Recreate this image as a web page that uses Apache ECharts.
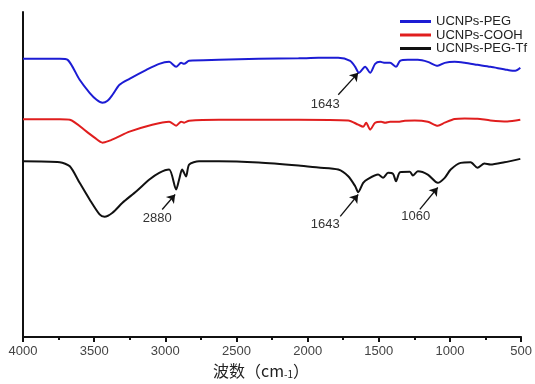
<!DOCTYPE html>
<html>
<head>
<meta charset="utf-8">
<script src="https://cdn.jsdelivr.net/npm/echarts@6/dist/echarts.min.js"></script>
<style>
  html, body { margin: 0; padding: 0; background: #fff; }
  #chart { width: 535px; height: 384px; }
</style>
</head>
<body>
<div id="chart"></div>
<script>
// 波数 (cm-1) 和 透过率 (任意单位)
const pegWave = [4000, 3741, 3686, 3602, 3532, 3483, 3441, 3406, 3371, 3322, 3252, 3133, 3043, 2973, 2924, 2889, 2868, 2833, 2623, 2344, 2064, 1925, 1785, 1701, 1666, 1640, 1596, 1561, 1526, 1491, 1456, 1421, 1379, 1351, 1296, 1226, 1156, 1086, 1037, 967, 897, 807, 716, 597, 541, 506]
const pegT = [279, 279, 278, 258, 245, 238, 235, 237, 243, 253, 259, 268, 274, 276, 271, 275, 274, 277, 278, 279, 279.5, 280, 280, 277, 271, 265, 271, 265, 274, 276, 275, 275, 271, 277, 278, 278, 276, 272, 275, 276, 275, 273, 271, 268, 267, 270]

const coohWave = [4000, 3741, 3671, 3553, 3497, 3441, 3392, 3343, 3252, 3092, 2973, 2924, 2889, 2868, 2833, 2623, 2064, 1715, 1645, 1610, 1589, 1561, 1526, 1484, 1456, 1421, 1366, 1317, 1247, 1156, 1086, 1037, 967, 897, 807, 716, 597, 506]
const coohT = [218.5, 218.5, 218, 206, 200, 195, 197, 200, 206, 213, 216, 212, 216, 215, 217, 218, 218, 217.3, 213, 211, 215, 208, 215, 216, 215, 216, 216, 217, 217.3, 216, 212, 215, 218.7, 219.3, 219, 217.3, 216.3, 218]

const tfWave = [4000, 3741, 3671, 3602, 3532, 3462, 3427, 3371, 3301, 3203, 3112, 3043, 2973, 2924, 2903, 2882, 2854, 2833, 2763, 2623, 2344, 2064, 1925, 1785, 1715, 1666, 1645, 1610, 1575, 1505, 1470, 1435, 1400, 1379, 1351, 1282, 1261, 1226, 1156, 1086, 1037, 995, 925, 855, 807, 758, 716, 618, 506]
const tfT = [176.3, 175.3, 171.3, 154.7, 138, 123, 120.7, 124.7, 134.7, 146.3, 158, 164.7, 168, 148, 158, 168, 161, 173, 176.3, 176.3, 175, 172, 170, 168, 161.3, 151.3, 145.3, 154.7, 158.7, 163, 159.7, 164.7, 163.7, 156.3, 165.3, 165.7, 162, 166.3, 163, 154.7, 159.7, 168, 174.7, 175.3, 169.7, 174, 173, 175.3, 178.7]

const seriesNames = ['UCNPs-PEG', 'UCNPs-COOH', 'UCNPs-PEG-Tf']
const seriesColors = ['#1c1cd4', '#e01e1e', '#111111']

// 标注: 文字位置, 箭头尾, 箭头头
const pegNotes = [{ text: '1643', at: [1876, 233], tail: [1785, 243], head: [1645, 265] }]
const tfNotes = [
  { text: '2880', at: [3057, 119], tail: [3022, 128], head: [2931, 143] },
  { text: '1643', at: [1876, 113], tail: [1771, 121], head: [1645, 143] },
  { text: '1060', at: [1240, 121], tail: [1212, 128], head: [1086, 150] }
]

const zip = (xs, ys) => xs.map((x, i) => [x, ys[i]])

const marks = notes => ({
  markLine: {
    silent: true,
    animation: false,
    symbol: ['none', 'arrow'],
    symbolSize: 8,
    label: { show: false },
    lineStyle: { color: '#111', width: 1.3, type: 'solid' },
    emphasis: { disabled: true },
    data: notes.map(n => [{ coord: n.tail }, { coord: n.head }])
  },
  markPoint: {
    silent: true,
    animation: false,
    symbol: 'circle',
    symbolSize: 1,
    itemStyle: { color: 'rgba(0,0,0,0)' },
    label: {
      show: true,
      position: 'inside',
      formatter: p => p.name,
      color: '#333',
      fontSize: 13,
      fontFamily: 'Liberation Sans'
    },
    data: notes.map(n => ({ name: n.text, coord: n.at }))
  }
})

const makeLine = (idx, data, extra) => Object.assign({
  name: seriesNames[idx],
  type: 'line',
  data: data,
  symbol: 'none',
  smooth: 0.25,
  color: seriesColors[idx],
  lineStyle: { color: seriesColors[idx], width: 2 }
}, extra || {})

const chart = echarts.init(document.getElementById('chart'))
chart.setOption({
  animation: false,
  backgroundColor: '#fff',
  grid: { left: 23, right: 10, top: 12, bottom: 46 },
  legend: {
    orient: 'vertical',
    left: 395,
    top: 10,
    icon: 'rect',
    itemWidth: 31,
    itemHeight: 3,
    itemGap: 0.5,
    textStyle: { fontSize: 13, lineHeight: 12, color: '#222', fontFamily: 'Liberation Sans' },
    data: seriesNames
  },
  xAxis: {
    type: 'value',
    inverse: true,
    min: 500,
    max: 4000,
    interval: 500,
    name: '波数{s|（}cm{sub|-1}{s|）}',
    nameLocation: 'middle',
    nameGap: 22,
    nameTextStyle: {
      fontSize: 16,
      color: '#222',
      fontFamily: 'Noto Sans CJK SC',
      padding: [0, 22, 0, 0],
      rich: {
        s: { fontSize: 16, color: '#222', fontFamily: 'Noto Sans CJK SC' },
        sub: { fontSize: 10, color: '#222', fontFamily: 'Noto Sans CJK SC', verticalAlign: 'bottom', padding: [6, 0, 0, 0] }
      }
    },
    axisLine: { onZero: false, lineStyle: { color: '#111', width: 2 } },
    axisTick: { show: true, inside: false, length: 5, lineStyle: { color: '#111', width: 2 } },
    minorTick: { show: true, splitNumber: 2, length: 3, lineStyle: { color: '#111', width: 2 } },
    axisLabel: { margin: 8, fontSize: 13, color: '#444', fontFamily: 'Liberation Sans', formatter: v => String(v) },
    splitLine: { show: false }
  },
  yAxis: {
    type: 'value',
    min: 0,
    max: 326,
    axisLine: { show: true, lineStyle: { color: '#111', width: 2 } },
    axisTick: { show: false },
    axisLabel: { show: false },
    splitLine: { show: false }
  },
  series: [
    makeLine(0, zip(pegWave, pegT), marks(pegNotes)),
    makeLine(1, zip(coohWave, coohT)),
    makeLine(2, zip(tfWave, tfT), marks(tfNotes))
  ]
})
</script>
</body>
</html>
